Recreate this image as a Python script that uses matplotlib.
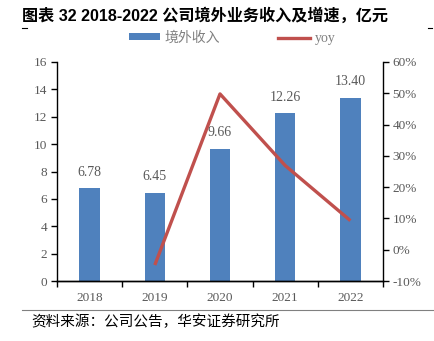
import matplotlib
matplotlib.use("Agg")
import matplotlib.pyplot as plt
from matplotlib.lines import Line2D
from matplotlib.patches import Patch

years = ["2018", "2019", "2020", "2021", "2022"]
revenue = [6.78, 6.45, 9.66, 12.26, 13.40]
yoy_years = ["2019", "2020", "2021", "2022"]
yoy = [-4.9, 49.8, 26.9, 9.3]

W, H = 434, 341
fig = plt.figure(figsize=(W / 100, H / 100), dpi=100)
ax = fig.add_axes([57 / W, 1 - 281 / H, (383 - 57) / W, (281 - 62) / H])
ax2 = ax.twinx()

blue = "#4F81BD"
red = "#C0504D"
gray = "#595959"
serif = ["Liberation Serif", "DejaVu Serif"]

x = list(range(len(years)))
ax.bar(x, revenue, width=0.31, color=blue, zorder=2)
for xi, v in zip(x, revenue):
    ax.text(xi, v + 0.7, f"{v:.2f}", ha="center", va="bottom",
            fontsize=10, color=gray, family=serif)

xl = [years.index(y) for y in yoy_years]
ax2.plot(xl, yoy, color=red, lw=2.4, solid_capstyle="butt", zorder=3)

ax.set_xlim(-0.5, len(years) - 0.5)
ax.set_ylim(0, 16)
ax.set_yticks(range(0, 17, 2))
ax2.set_ylim(-10, 60)
ax2.set_yticks(range(-10, 61, 10))
ax2.set_yticklabels([f"{t}%" for t in range(-10, 61, 10)])

ax.set_xticks([i - 0.5 for i in range(len(years) + 1)], minor=False)
ax.set_xticklabels([])
ax.set_xticks(x, minor=True)
ax.set_xticklabels(years, minor=True)
ax.tick_params(axis="x", which="major", length=4, width=1, direction="out", color="black")
ax.tick_params(axis="x", which="minor", length=0, pad=8, labelsize=9.5, labelcolor=gray)
ax.tick_params(axis="y", length=4, width=1, direction="out", labelsize=9.5, labelcolor=gray, pad=3)
ax2.tick_params(axis="y", length=4, width=1, direction="out", labelsize=9.5, labelcolor=gray, pad=3)
for lab in ax.get_xticklabels(minor=True) + ax.get_yticklabels() + ax2.get_yticklabels():
    lab.set_family(serif)

for a in (ax, ax2):
    a.spines["top"].set_visible(False)
    for s in ("left", "right", "bottom"):
        a.spines[s].set_linewidth(1)
        a.spines[s].set_color("black")
ax2.spines["left"].set_visible(False)
ax.spines["right"].set_visible(False)

handles = [Patch(facecolor=blue, edgecolor="none"),
           Line2D([0], [0], color=red, lw=2.4)]
leg = fig.legend(handles, ["境外收入", "yoy"], loc="center",
                 bbox_to_anchor=(232 / W, 1 - 38 / H), ncol=2, frameon=False,
                 handlelength=2.3, handleheight=0.35, columnspacing=4.2, handletextpad=0.3,
                 prop={"family": ["Liberation Serif", "Noto Sans CJK SC"], "size": 10})
for t in leg.get_texts():
    t.set_color("#808080")

fig.text(22 / W, 1 - 15 / H, "图表 32 2018-2022 公司境外业务收入及增速，亿元",
         ha="left", va="center", fontsize=11.6, fontweight="bold",
         family=["Liberation Sans", "Noto Sans CJK SC"], color="black")
fig.lines.append(Line2D([22 / W, 27 / W], [1 - 28 / H] * 2, color="black", lw=0.8,
                        transform=fig.transFigure))
fig.lines.append(Line2D([428 / W, 432 / W], [1 - 28 / H] * 2, color="black", lw=0.8,
                        transform=fig.transFigure))
fig.lines.append(Line2D([22 / W, 433 / W], [1 - 310 / H] * 2, color="#808080", lw=0.8,
                        transform=fig.transFigure))
fig.text(31 / W, 1 - 322 / H, "资料来源：公司公告，华安证券研究所", ha="left", va="center",
         fontsize=10.5, family=["Noto Sans CJK SC", "DejaVu Sans"], color="black")

fig.savefig("out.png", dpi=100)
